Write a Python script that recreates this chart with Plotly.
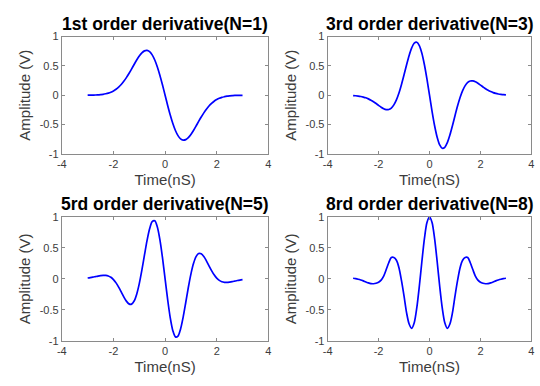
import plotly.graph_objects as go

# Time axis (nS)
time_ns = [-3.0, -2.9, -2.8, -2.7, -2.6, -2.5, -2.4, -2.3, -2.2, -2.1,
           -2.0, -1.9, -1.8, -1.7, -1.6, -1.5, -1.4, -1.3, -1.2, -1.1,
           -1.0, -0.9, -0.8, -0.7, -0.6, -0.5, -0.4, -0.3, -0.2, -0.1,
           0.0, 0.1, 0.2, 0.3, 0.4, 0.5, 0.6, 0.7, 0.8, 0.9,
           1.0, 1.1, 1.2, 1.3, 1.4, 1.5, 1.6, 1.7, 1.8, 1.9,
           2.0, 2.1, 2.2, 2.3, 2.4, 2.5, 2.6, 2.7, 2.8, 2.9, 3.0]

# 1st order derivative (N=1)
amp_n1 = [0.001, 0.002, 0.003, 0.004, 0.007, 0.011, 0.016, 0.025, 0.036, 0.052,
          0.074, 0.102, 0.139, 0.183, 0.237, 0.300, 0.370, 0.446, 0.524, 0.600,
          0.668, 0.722, 0.756, 0.764, 0.743, 0.688, 0.600, 0.482, 0.337, 0.174,
          0.0,
          -0.174, -0.337, -0.482, -0.600, -0.688, -0.743, -0.764, -0.756, -0.722,
          -0.668, -0.600, -0.524, -0.446, -0.370, -0.300, -0.237, -0.183, -0.139, -0.102,
          -0.074, -0.052, -0.036, -0.025, -0.016, -0.011, -0.007, -0.004, -0.003, -0.002, -0.001]

# 3rd order derivative (N=3)
amp_n3 = [-0.006, -0.009, -0.014, -0.021, -0.031, -0.044, -0.062, -0.084, -0.110, -0.141,
          -0.173, -0.204, -0.229, -0.244, -0.243, -0.218, -0.164, -0.079, 0.038, 0.184,
          0.348, 0.519, 0.678, 0.807, 0.887, 0.903, 0.846, 0.715, 0.519, 0.273,
          0.0,
          -0.273, -0.519, -0.715, -0.846, -0.903, -0.887, -0.807, -0.678, -0.519,
          -0.348, -0.184, -0.038, 0.079, 0.164, 0.218, 0.243, 0.244, 0.229, 0.204,
          0.173, 0.141, 0.110, 0.084, 0.062, 0.044, 0.031, 0.021, 0.014, 0.009, 0.006]

# 5th order derivative (N=5)
amp_n5 = [0.014, 0.020, 0.027, 0.036, 0.045, 0.052, 0.057, 0.056, 0.047, 0.025,
          -0.012, -0.065, -0.133, -0.211, -0.291, -0.360, -0.404, -0.408, -0.358, -0.247,
          -0.077, 0.140, 0.382, 0.617, 0.809, 0.924, 0.937, 0.837, 0.629, 0.337,
          0.0,
          -0.337, -0.629, -0.837, -0.937, -0.924, -0.809, -0.617, -0.382, -0.140,
          0.077, 0.247, 0.358, 0.408, 0.404, 0.360, 0.291, 0.211, 0.133, 0.065,
          0.012, -0.025, -0.047, -0.056, -0.057, -0.052, -0.045, -0.036, -0.027, -0.020, -0.014]

# 8th order derivative (N=8)
amp_n8 = [0.010, 0.004, -0.006, -0.018, -0.033, -0.050, -0.066, -0.077, -0.079, -0.072,
          -0.055, -0.020, 0.045, 0.150, 0.260, 0.345, 0.345, 0.300, 0.180, -0.030,
          -0.280, -0.550, -0.730, -0.800, -0.710, -0.470, -0.120, 0.280, 0.650, 0.910,
          1.000,
          0.910, 0.650, 0.280, -0.120, -0.470, -0.710, -0.800, -0.730, -0.550,
          -0.280, -0.030, 0.180, 0.300, 0.345, 0.345, 0.260, 0.150, 0.045, -0.020,
          -0.055, -0.072, -0.079, -0.077, -0.066, -0.050, -0.033, -0.018, -0.006, 0.004, 0.010]

titles = ["1st order derivative(N=1)", "3rd order derivative(N=3)",
          "5rd order derivative(N=5)", "8rd order derivative(N=8)"]
series = [amp_n1, amp_n3, amp_n5, amp_n8]

x_ticks = [-4, -2, 0, 2, 4]
x_ticktext = ["-4", "-2", "0", "2", "4"]
y_ticks = [-1, -0.5, 0, 0.5, 1]
y_ticktext = ["-1", "-0.5", "0", "0.5", "1"]

W, H = 540, 386
# pixel boxes (left, right, top, bottom)
boxes = [(57.7, 267.3, 31.5, 152.7), (327.5, 534.3, 31.5, 152.7),
         (57.7, 267.3, 217.7, 345.5), (327.5, 534.3, 217.7, 345.5)]

FONT = "Liberation Sans, Arial, Helvetica, sans-serif"
AXC = "#8a8a8a"
TXC = "#3c3c3c"

fig = go.Figure()
layout = dict(width=W, height=H, margin=dict(l=0, r=0, t=0, b=0),
              paper_bgcolor="white", plot_bgcolor="white", showlegend=False,
              font=dict(family=FONT, color=TXC))
annotations = []
for i, (ys, ttl, box) in enumerate(zip(series, titles, boxes)):
    n = "" if i == 0 else str(i + 1)
    fig.add_trace(go.Scatter(x=time_ns, y=ys, mode="lines",
                             line=dict(color="#0000ff", width=1.7, shape="spline",
                                       smoothing=0.8, simplify=False),
                             xaxis="x" + n, yaxis="y" + n, hoverinfo="skip"))
    l, r, t, b = box
    common = dict(showline=True, linecolor=AXC, linewidth=1, mirror="ticks",
                  ticks="inside", ticklen=3, tickcolor=AXC, showgrid=False,
                  zeroline=False, tickfont=dict(family=FONT, size=11, color=TXC))
    layout["xaxis" + n] = dict(domain=[l / W, r / W], anchor="y" + n,
                               range=[-4, 4], tickvals=x_ticks, ticktext=x_ticktext,
                               title=dict(text="Time(nS)", font=dict(family=FONT, size=15, color=TXC),
                                          standoff=5),
                               **common)
    layout["yaxis" + n] = dict(domain=[1 - b / H, 1 - t / H], anchor="x" + n,
                               range=[-1, 1], tickvals=y_ticks, ticktext=y_ticktext,
                               title=dict(text="Amplitude (V)", font=dict(family=FONT, size=15, color=TXC),
                                          standoff=5),
                               **common)
    annotations.append(dict(text="<b>" + ttl + "</b>", xref="paper", yref="paper",
                            x=(l + r) / 2 / W, y=1 - (t - 13) / H,
                            xanchor="center", yanchor="middle", showarrow=False,
                            font=dict(family=FONT, size=17.5, color="black")))
layout["annotations"] = annotations
fig.update_layout(**layout)
fig.write_html("out.html")
